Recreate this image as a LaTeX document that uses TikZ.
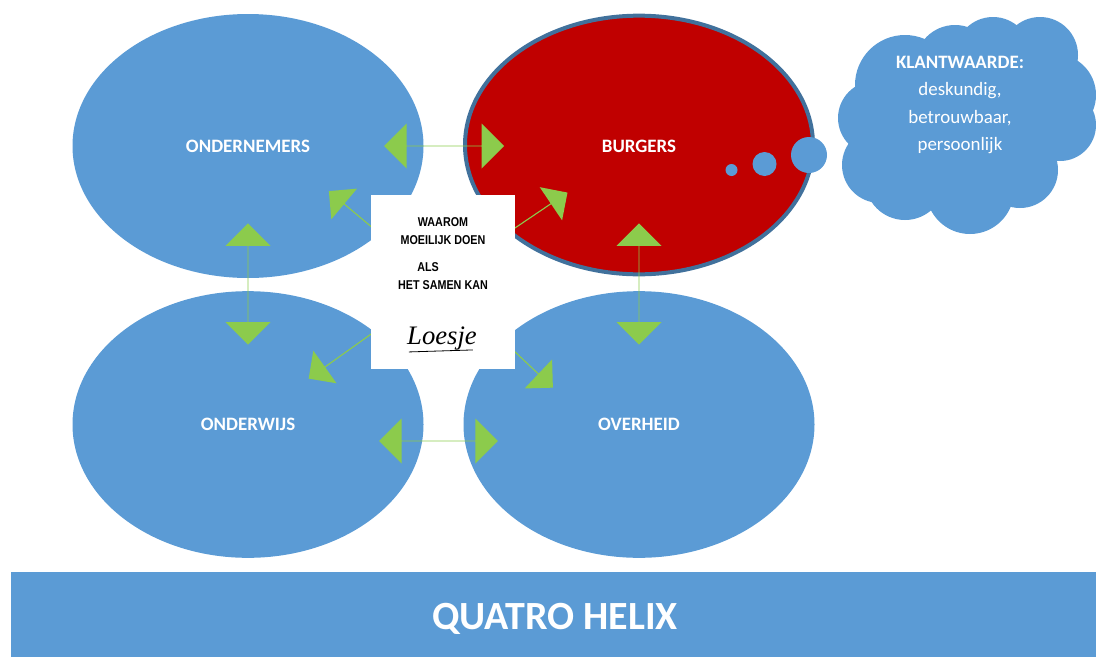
\documentclass[tikz,border=0pt]{standalone}
\usepackage{fontspec}
\setmainfont{Carlito}
\newfontfamily\boxfont{Liberation Sans}
\newfontfamily\signfont{Liberation Serif}
\usetikzlibrary{shapes.arrows,shapes.geometric}
\definecolor{hblue}{HTML}{5B9BD5}
\definecolor{hred}{HTML}{C00000}
\definecolor{hgreen}{HTML}{8CCB4C}
\definecolor{hedge}{HTML}{41719C}
\tikzset{
  pole/.style={ellipse,fill=hblue,inner sep=0pt,minimum width=263.25pt,minimum height=198pt},
  polelabel/.style={text=white,font=\fontsize{14.2pt}{16pt}\selectfont\bfseries,inner sep=0pt},
  twoway/.style={double arrow,fill=hgreen,inner sep=0pt,minimum height=90pt,minimum width=33.75pt,
    double arrow head extend=9pt,double arrow head indent=0pt},
  oneway/.style={single arrow,fill=hgreen,inner sep=0pt,minimum width=30pt,
    single arrow head extend=7pt,single arrow head indent=0pt,anchor=tail},
  bubble/.style={circle,fill=hblue,inner sep=0pt},
  puff/.style={fill=hblue},
  quote/.style={font=\boxfont\bfseries\fontsize{9.6pt}{11pt}\selectfont,text=black,inner sep=0pt,xscale=.84,transform shape},
}
\begin{document}
\begin{tikzpicture}[x=.75pt,y=-.75pt]
\useasboundingbox (0,0) rectangle (1096,657);
% poles
\node[pole] (ondernemers) at (248,146) {};
\node[pole,fill=hred,draw=hedge,line width=3pt,minimum width=261pt,minimum height=194pt] (burgers) at (639,145) {};
\node[pole,minimum height=200pt] (onderwijs) at (248,424.5) {};
\node[pole,minimum height=200pt] (overheid) at (639,424.5) {};
\node[polelabel] at (248,146) (l1) {ONDERNEMERS};
\node[polelabel] at (639,146) (l2) {BURGERS};
\node[polelabel] at (248,424) (l3) {ONDERWIJS};
\node[polelabel] at (639,424) (l4) {OVERHEID};
% two-way arrows
\node[twoway] (a1) at (444,146) {};
\node[twoway,minimum height=89pt] (a2) at (438.5,441) {};
\node[twoway,rotate=90,minimum height=91pt] (a3) at (248,284) {};
\node[twoway,rotate=90,minimum height=91pt] (a4) at (639,284) {};
% one-way arrows
\coordinate (b1) at (374,229);
\coordinate (b2) at (512,230);
\coordinate (b3) at (374,332);
\coordinate (b4) at (512,349);
\node[oneway,rotate=140,minimum height=44pt] (a5) at (b1) {};
\node[oneway,rotate=34,minimum height=50pt] (a6) at (b2) {};
\node[oneway,rotate=215.5,minimum height=60pt] (a7) at (b3) {};
\node[oneway,rotate=-43.4,minimum height=42pt] (a8) at (b4) {};
% poster
\node[fill=white,inner sep=0pt,minimum width=108pt,minimum height=130.5pt] (poster) at (443,282) {};
\node[quote] (q1) at (443,222) {WAAROM};
\node[quote] (q2) at (443,240) {MOEILIJK DOEN};
\node[quote] (q3) at (428,267) {ALS};
\node[quote] (q4) at (443,285) {HET SAMEN KAN};
\node[inner sep=0pt,font=\signfont\itshape\fontsize{20pt}{22pt}\selectfont,text=black] (sign) at (442,339) {Loesje};
\draw[black,line width=.6pt] (sign.south west) ++(2,1) -- ++(64,-2);
% thought bubbles
\node[bubble,minimum size=9pt] (t1) at (731.5,170) {};
\node[bubble,minimum size=18pt] (t2) at (764.5,164) {};
\node[bubble,minimum size=27pt] (t3) at (809,155) {};
% cloud
\fill[puff] (960,120) circle (72*.75pt);
\fill[puff] (875,118) circle (37*.75pt);
\fill[puff] (905,85) circle (50*.75pt);
\fill[puff] (955,65) circle (40*.75pt);
\fill[puff] (993,55) circle (38*.75pt);
\fill[puff] (1040,55) circle (38*.75pt);
\fill[puff] (1055,95) circle (41*.75pt);
\fill[puff] (1060,125) circle (36*.75pt);
\fill[puff] (1040,130) circle (35*.75pt);
\fill[puff] (1020,170) circle (38*.75pt);
\fill[puff] (970,190) circle (44*.75pt);
\fill[puff] (905,180) circle (40*.75pt);
\fill[puff] (880,165) circle (38*.75pt);
\node[text=white,align=center,inner sep=0pt,font=\fontsize{14.2pt}{20.5pt}\selectfont] (cloudtext) at (960,105)
  {\textbf{KLANTWAARDE:}\\deskundig,\\betrouwbaar,\\persoonlijk};
% band
\node[fill=hblue,inner sep=0pt,minimum width=813.75pt,minimum height=63.75pt,anchor=north west] (band) at (11,572) {};
\node[text=white,inner sep=0pt,font=\fontsize{30pt}{34pt}\selectfont\bfseries] (title) at (555,619) {QUATRO HELIX};
\end{tikzpicture}
\end{document}
